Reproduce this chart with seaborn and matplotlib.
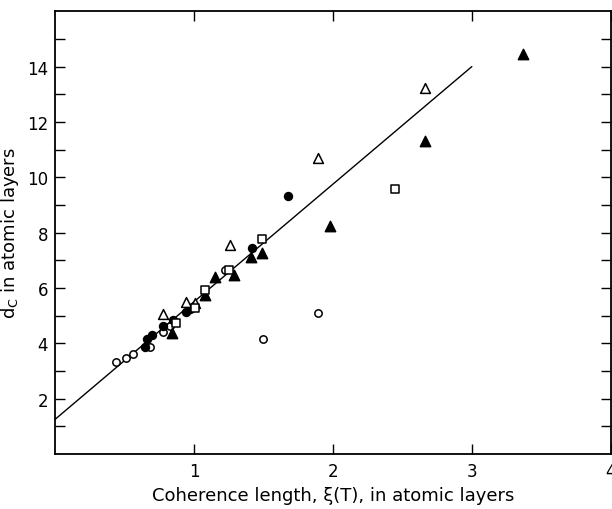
import matplotlib
matplotlib.use("Agg")
import matplotlib.pyplot as plt
import numpy as np
import pandas as pd
import seaborn as sns

# values
open_circle_x = [0.44, 0.51, 0.56, 0.68, 0.78, 0.83, 1.22, 1.50, 1.89]
open_circle_y = [3.32, 3.45, 3.60, 3.87, 4.41, 4.62, 6.65, 4.14, 5.11]

filled_circle_x = [0.65, 0.66, 0.70, 0.78, 0.85, 0.94, 0.97, 1.42, 1.68]
filled_circle_y = [3.86, 4.14, 4.29, 4.64, 4.83, 5.12, 5.22, 7.44, 9.32]

open_triangle_x = [0.78, 0.94, 1.01, 1.26, 1.89, 2.66]
open_triangle_y = [5.04, 5.48, 5.46, 7.56, 10.70, 13.22]

filled_triangle_x = [0.84, 1.08, 1.15, 1.29, 1.41, 1.49, 1.98, 2.66, 3.37]
filled_triangle_y = [4.36, 5.76, 6.39, 6.47, 7.13, 7.25, 8.25, 11.32, 14.46]

open_square_x = [0.87, 1.01, 1.08, 1.25, 1.49, 2.45]
open_square_y = [4.74, 5.28, 5.93, 6.65, 7.75, 9.57]

fit_x = [0.0, 3.0]
fit_y = [1.25, 14.0]

sns.set_theme(style="ticks")
plt.rcParams["font.family"] = ["DejaVu Sans Condensed", "DejaVu Sans"]

fig = plt.figure(figsize=(6.12, 5.1), dpi=100)
ax = fig.add_axes([0.09, 0.108, 0.908, 0.868])

sns.lineplot(x=fit_x, y=fit_y, ax=ax, color="black", lw=1.0)

groups = [
    (open_circle_x, open_circle_y, "o", "white", 28),
    (filled_circle_x, filled_circle_y, "o", "black", 32),
    (open_triangle_x, open_triangle_y, "^", "white", 50),
    (filled_triangle_x, filled_triangle_y, "^", "black", 55),
    (open_square_x, open_square_y, "s", "white", 28),
]
for xs, ys, mk, fc, size in groups:
    df = pd.DataFrame({"xi": xs, "dc": ys})
    sns.scatterplot(data=df, x="xi", y="dc", ax=ax, marker=mk, s=size,
                    color=fc, edgecolor="black", linewidth=1.1, zorder=3)

ax.set_xlim(0, 4)
ax.set_ylim(0, 16)
ax.set_xticks([1, 2, 3, 4])
ax.set_xticklabels(["1", "2", "3", "4"])
ax.set_yticks([2, 4, 6, 8, 10, 12, 14])
ax.set_yticks(np.arange(1, 16, 2), minor=True)
ax.tick_params(which="both", direction="in", length=7, width=1.0,
               top=True, right=True, labelsize=12, pad=5,
               colors="black", labelcolor="black")
ax.tick_params(axis="x", pad=6)

for sp in ax.spines.values():
    sp.set_linewidth(1.3)
    sp.set_color("black")

ax.set_xlabel("Coherence length, ξ(T), in atomic layers", fontsize=13,
              labelpad=4, color="black")
ax.set_ylabel(r"d$_\mathrm{C}$ in atomic layers", fontsize=13,
              labelpad=4, color="black")

fig.savefig("out.png", dpi=100)
